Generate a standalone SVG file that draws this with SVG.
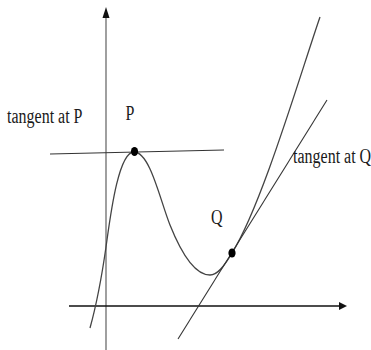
<svg xmlns="http://www.w3.org/2000/svg" width="371" height="350" viewBox="0 0 371 350">
<style>
.lbl{font-family:"Liberation Serif","Times New Roman",serif;font-size:16px;fill:#1a1a1a}
.axis{stroke:#111;stroke-width:1.4;fill:none}
.yaxis{stroke:#777;stroke-width:1.4;fill:none}
.curve{stroke:#444;stroke-width:1.3;fill:none}
.tan{stroke:#333;stroke-width:1.1;fill:none}
.dot{fill:#000}
</style>
<rect width="371" height="350" fill="#fff"/>
<g id="axes">
<line class="yaxis" x1="106" y1="350" x2="106" y2="16"/>
<polygon points="106,7 102.5,18 109.5,18" fill="#111"/>
<line class="axis" x1="69" y1="306" x2="340" y2="306"/>
<polygon points="347,306 339,302 339,310" fill="#111"/>
</g>
<g id="connectors">
<path class="curve" d="M90,328 C95,310 102,275 106,247 C110,219 118,152 134,152 C150,152 160,200 170,225 C178,245 192,275 210,275 C218,275 225,265 232,253 C262,205 300,75 320,17"/>
<line class="tan" x1="50" y1="154" x2="224" y2="150"/>
<line class="tan" x1="178" y1="339" x2="327" y2="100"/>
</g>
<g id="P">
<ellipse class="dot" cx="134.5" cy="151.5" rx="3.6" ry="4.6"/>
<text class="lbl" transform="translate(125.5,120) scale(1,1.35)">P</text>
</g>
<g id="Q">
<ellipse class="dot" cx="232" cy="253" rx="3.6" ry="4.6"/>
<text class="lbl" transform="translate(211,224) scale(1,1.35)">Q</text>
</g>
<g id="label-tangent-P">
<text class="lbl" transform="translate(7,123) scale(1,1.35)">tangent at P</text>
</g>
<g id="label-tangent-Q">
<text class="lbl" transform="translate(293,163) scale(1,1.35)">tangent at Q</text>
</g>
</svg>
